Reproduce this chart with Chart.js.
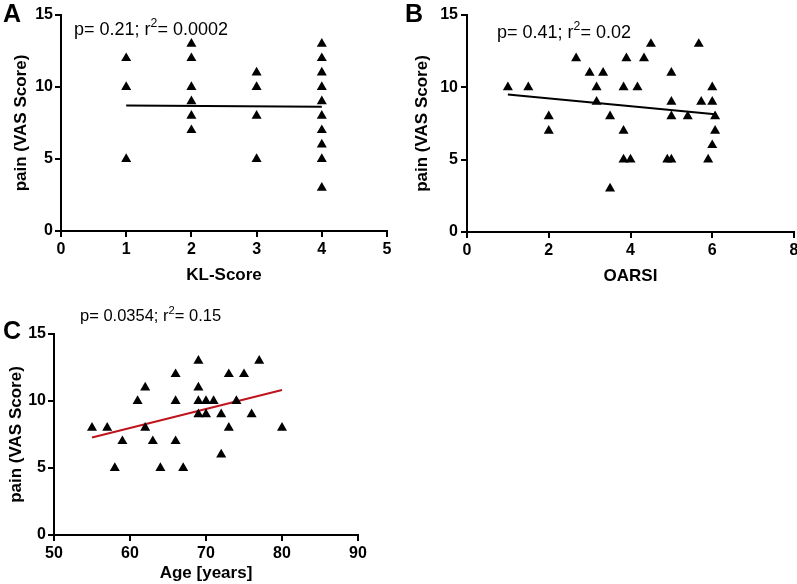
<!DOCTYPE html>
<html><head><meta charset="utf-8">
<script src="https://cdn.jsdelivr.net/npm/chart.js@4/dist/chart.umd.min.js"></script>
<style>
html,body{margin:0;padding:0;background:#fff;width:797px;height:584px;overflow:hidden;font-family:"Liberation Sans",Arial,sans-serif;color:#000}
canvas{position:absolute;left:0;top:0}
.lab{position:absolute;font-weight:bold;font-size:25px;line-height:1}
.ann{position:absolute;font-size:18px;line-height:1;white-space:nowrap}
.ann sup{font-size:0.68em;line-height:1;vertical-align:0.62em}
</style></head>
<body>
<canvas id="cA" width="797" height="584"></canvas>
<canvas id="cB" width="797" height="584"></canvas>
<canvas id="cC" width="797" height="584"></canvas>
<div class="lab" style="left:3px;top:1px">A</div>
<div class="lab" style="left:405px;top:1px">B</div>
<div class="lab" style="left:3px;top:318px">C</div>
<div class="ann" style="left:74px;top:17px">p= 0.21; r<sup>2</sup>= 0.0002</div>
<div class="ann" style="left:497px;top:20px">p= 0.41; r<sup>2</sup>= 0.02</div>
<div class="ann" style="left:80px;top:305px;font-size:16.5px">p= 0.0354; r<sup>2</sup>= 0.15</div>
<script>
// Panel A: KL-Score vs pain
const klScore = [1,1,1, 2,2,2,2,2,2, 3,3,3,3, 4,4,4,4,4,4,4,4,4,4];
const klPain  = [12,10,5, 13,12,10,9,8,7, 11,10,8,5, 13,12,11,10,9,8,7,6,5,3];
const klFitX = [1, 4];
const klFitY = [8.72, 8.62];

// Panel B: OARSI vs pain
const oarsi = [1,1.5,2,2,2.67,3,3.33,3.17,3.17,3.5,3.5,3.83,3.83,3.83,4,3.9,4.17,4.33,4.5,5,5,5,4.9,5,5.4,5.67,5.73,6,6,6.07,6.07,6,5.9];
const oarsiPain = [10,10,8,7,12,11,11,10,9,8,3,10,7,5,5,12,10,12,13,11,9,8,5,5,8,13,9,10,9,8,7,6,5];
const oarsiFitX = [1, 6.07];
const oarsiFitY = [9.5, 8.14];

// Panel C: Age vs pain
const age = [55,57,58,59,61,62,62,63,64,66,66,66,67,69,69,69,69,70,70,71,72,72,73,73,74,75,76,77,80];
const agePain = [8,8,5,7,10,11,8,7,5,12,10,7,5,13,11,10,9,10,9,10,9,6,12,8,10,12,9,13,8];
const ageFitX = [55, 80];
const ageFitY = [7.28, 10.82];

const F = '"Liberation Sans", Arial, sans-serif';
const pts = (xs, ys) => xs.map((x, i) => ({x: x, y: ys[i]}));

function axis(o, horiz) {
  return {
    type: 'linear', min: o.min, max: o.max,
    ticks: {stepSize: o.step, color: '#000', font: {family: F, size: 16, weight: 'bold'}, padding: o.tp, maxRotation: 0, autoSkip: false, includeBounds: true},
    grid: {display: true, drawOnChartArea: false, drawTicks: true, tickLength: 6, color: '#000', lineWidth: 2},
    border: {display: true, color: '#000', width: 2},
    title: {display: true, text: o.title, color: '#000', font: {family: F, size: 17, weight: 'bold'}, padding: horiz ? {top: 0, bottom: o.pad} : {top: o.pad, bottom: 0}},
    afterFit(s) {
      if (horiz) s.height = o.size; else s.width = o.size;
      s.paddingLeft = 0; s.paddingRight = 0; s.paddingTop = 0; s.paddingBottom = 0;
    }
  };
}

function makeChart(id, data, fitData, lineColor, pad, xo, yo) {
  new Chart(document.getElementById(id), {
    type: 'scatter',
    data: {datasets: [
      {data: data, pointStyle: 'triangle', pointRadius: 5.8, pointHoverRadius: 5.8, backgroundColor: '#000', borderColor: '#000', borderWidth: 0, order: 1},
      {type: 'line', data: fitData, showLine: true, pointRadius: 0, borderColor: lineColor, borderWidth: 2, fill: false, order: 2}
    ]},
    options: {
      responsive: false, animation: false, events: [],
      layout: {padding: pad, autoPadding: false},
      plugins: {legend: {display: false}, tooltip: {enabled: false}, title: {display: false}},
      scales: {x: axis(xo, true), y: axis(yo, false)}
    }
  });
}

makeChart('cA', pts(klScore, klPain), pts(klFitX, klFitY), '#000',
  {left: 0, top: 15, right: 410, bottom: 293},
  {min: 0, max: 5, step: 1, title: 'KL-Score', size: 60, pad: 5, tp: 3},
  {min: 0, max: 15, step: 5, title: 'pain (VAS Score)', size: 61, pad: 11, tp: 2});

makeChart('cB', pts(oarsi, oarsiPain), pts(oarsiFitX, oarsiFitY), '#000',
  {left: 406, top: 15, right: 3, bottom: 292},
  {min: 0, max: 8, step: 2, title: 'OARSI', size: 60, pad: 5, tp: 3},
  {min: 0, max: 15, step: 5, title: 'pain (VAS Score)', size: 61, pad: 6, tp: 3});

makeChart('cC', pts(age, agePain), pts(ageFitX, ageFitY), '#c0141c',
  {left: 0, top: 334, right: 439, bottom: 0},
  {min: 50, max: 90, step: 10, title: 'Age [years]', size: 49, pad: 0, tp: 3},
  {min: 0, max: 15, step: 5, title: 'pain (VAS Score)', size: 54, pad: 6, tp: 2});
</script>
</body></html>
